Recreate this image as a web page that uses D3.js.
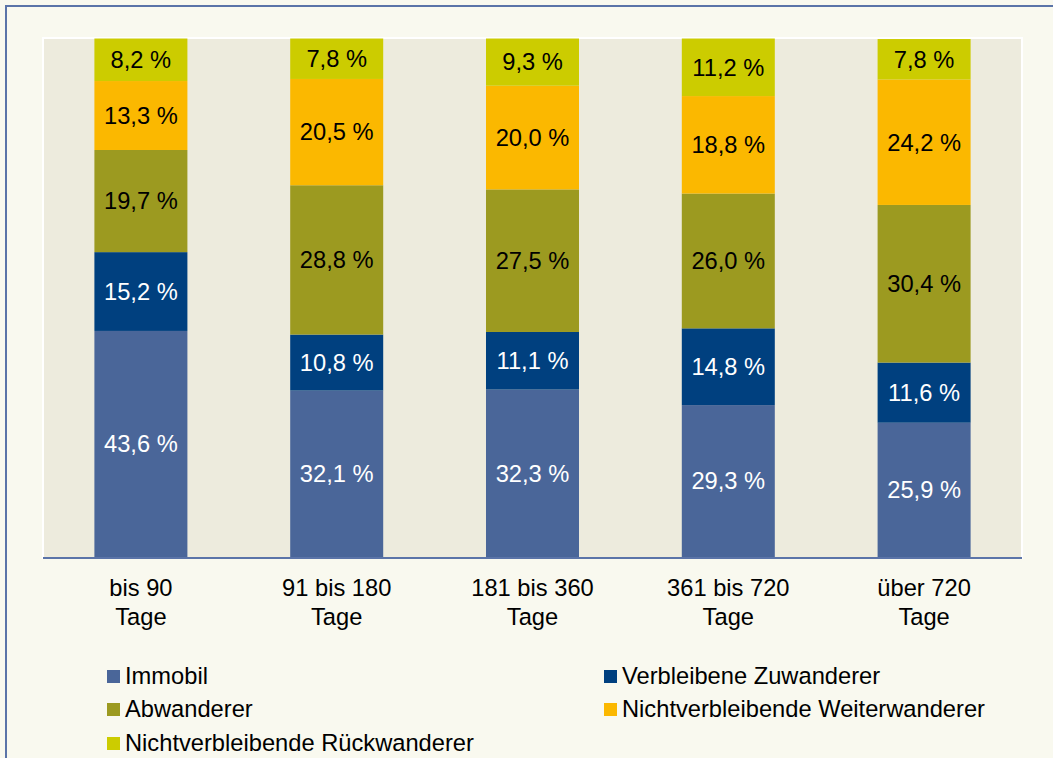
<!DOCTYPE html>
<html>
<head>
<meta charset="utf-8">
<script src="https://cdn.jsdelivr.net/npm/d3@7"></script>
<style>
  body { margin: 0; background: #f9f9ef; }
  svg { display: block; }
  svg text { font-family: Arial, "Liberation Sans", Helvetica, sans-serif; }
</style>
</head>
<body>
<div id="chart"></div>
<script>
  // categories and series
  const categories = ["bis 90|Tage", "91 bis 180|Tage", "181 bis 360|Tage", "361 bis 720|Tage", "über 720|Tage"];
  const seriesNames = ["Immobil", "Verbleibene Zuwanderer", "Abwanderer", "Nichtverbleibende Weiterwanderer", "Nichtverbleibende Rückwanderer"];
  const immobil = [43.6, 32.1, 32.3, 29.3, 25.9];
  const zuwanderer = [15.2, 10.8, 11.1, 14.8, 11.6];
  const abwanderer = [19.7, 28.8, 27.5, 26.0, 30.4];
  const weiterwanderer = [13.3, 20.5, 20.0, 18.8, 24.2];
  const rueckwanderer = [8.2, 7.8, 9.3, 11.2, 7.8];

  const colors = ["#4a6699", "#00407f", "#9c9a20", "#fbb800", "#cccc00"];
  const textColors = ["#fff", "#fff", "#000", "#000", "#000"];

  const width = 1053, height = 758;
  const margin = { top: 38, bottom: 200, left: 43, right: 31 };
  const fontSize = 23.7;

  const rows = categories.map((c, i) => ({
    cat: c,
    s0: immobil[i], s1: zuwanderer[i], s2: abwanderer[i], s3: weiterwanderer[i], s4: rueckwanderer[i]
  }));
  const keys = ["s0", "s1", "s2", "s3", "s4"];
  const stacked = d3.stack().keys(keys)(rows);

  const svg = d3.select("#chart").append("svg")
    .attr("width", width)
    .attr("height", height)
    .attr("font-family", "Arial, 'Liberation Sans', sans-serif");

  // outer frame
  svg.append("rect")
    .attr("x", 6).attr("y", 6)
    .attr("width", width + 10).attr("height", height + 10)
    .attr("fill", "#f9f9ef")
    .attr("stroke", "#5b74a8")
    .attr("stroke-width", 2);

  const xScale = d3.scaleBand()
    .domain(categories)
    .range([margin.left, width - margin.right])
    .paddingInner(0.525)
    .paddingOuter(0.2625);

  const yScale = d3.scaleLinear()
    .domain([0, 100.1])
    .range([height - margin.bottom - 1, margin.top]);

  // plot area
  svg.append("rect")
    .attr("x", margin.left).attr("y", margin.top)
    .attr("width", width - margin.right - margin.left)
    .attr("height", height - margin.bottom - margin.top)
    .attr("fill", "#edebdd")
    .attr("stroke", "#fff")
    .attr("stroke-width", 2);

  const layers = svg.selectAll("g.layer")
    .data(stacked)
    .join("g")
    .attr("class", "layer")
    .attr("fill", (d, i) => colors[i]);

  layers.selectAll("rect")
    .data(d => d)
    .join("rect")
    .attr("x", d => xScale(d.data.cat))
    .attr("y", d => yScale(Math.min(d[1], 100)))
    .attr("width", xScale.bandwidth())
    .attr("height", d => yScale(d[0]) - yScale(Math.min(d[1], 100)));

  const fmt = v => d3.format(".1f")(v).replace(".", ",") + " %";

  layers.selectAll("text")
    .data(d => d)
    .join("text")
    .attr("x", d => xScale(d.data.cat) + xScale.bandwidth() / 2)
    .attr("y", d => (yScale(d[0]) + yScale(Math.min(d[1], 100))) / 2)
    .attr("dy", "0.35em")
    .attr("text-anchor", "middle")
    .attr("font-size", fontSize)
    .attr("fill", function() { return textColors[stacked.indexOf(d3.select(this.parentNode).datum())]; })
    .text(d => fmt(d[1] - d[0]));

  // x axis line
  svg.append("line")
    .attr("x1", margin.left).attr("x2", width - margin.right)
    .attr("y1", height - margin.bottom).attr("y2", height - margin.bottom)
    .attr("stroke", "#5b74a8")
    .attr("stroke-width", 2);

  // category labels
  const catLabels = svg.selectAll("text.cat")
    .data(categories)
    .join("text")
    .attr("class", "cat")
    .attr("text-anchor", "middle")
    .attr("font-size", fontSize)
    .attr("fill", "#000");
  catLabels.selectAll("tspan")
    .data(d => d.split("|").map(t => ({ t, c: d })))
    .join("tspan")
    .attr("x", d => xScale(d.c) + xScale.bandwidth() / 2)
    .attr("y", (d, i) => 596 + i * 29)
    .text(d => d.t);

  // legend
  const legendPos = [[107, 676], [604, 676], [107, 709], [604, 709], [107, 743]];
  const legend = svg.selectAll("g.legend")
    .data(seriesNames)
    .join("g")
    .attr("class", "legend")
    .attr("transform", (d, i) => `translate(${legendPos[i][0]},${legendPos[i][1]})`);
  legend.append("rect")
    .attr("x", 0).attr("y", -6)
    .attr("width", 13).attr("height", 13)
    .attr("fill", (d, i) => colors[i]);
  legend.append("text")
    .attr("x", 18)
    .attr("dy", "0.35em")
    .attr("font-size", fontSize)
    .attr("fill", "#000")
    .text(d => d);
</script>
</body>
</html>
